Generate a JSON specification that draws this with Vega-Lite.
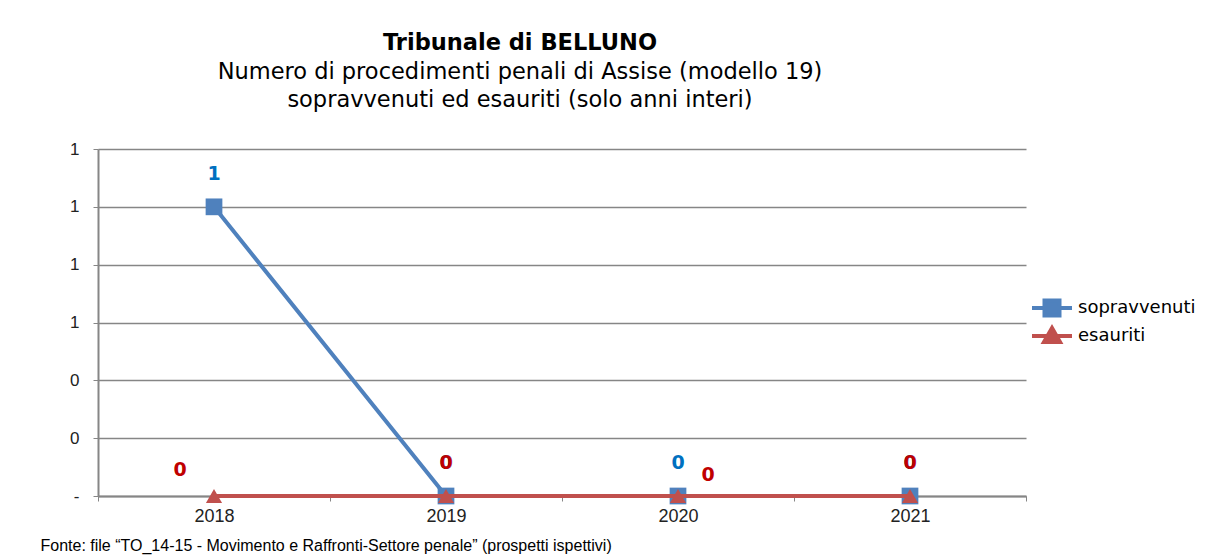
{
  "$schema": "https://vega.github.io/schema/vega-lite/v6.json",
  "autosize": {"type": "none"},
  "padding": {"left": 98, "top": 149, "right": 189, "bottom": 62},
  "width": 928,
  "height": 347,
  "background": "white",
  "title": {
    "text": "Tribunale di BELLUNO",
    "subtitle": ["Numero di procedimenti penali di Assise (modello 19)", "sopravvenuti ed esauriti (solo anni interi)"],
    "anchor": "middle",
    "dx": -42,
    "font": "DejaVu Sans",
    "fontSize": 22.5,
    "fontWeight": "bold",
    "color": "black",
    "subtitleFont": "DejaVu Sans",
    "subtitleFontSize": 22.5,
    "subtitleColor": "black",
    "subtitlePadding": 6,
    "subtitleLineHeight": 28,
    "offset": 29
  },
  "data": {
    "values": [
      {"anno": "2018", "serie": "sopravvenuti", "valore": 1},
      {"anno": "2019", "serie": "sopravvenuti", "valore": 0},
      {"anno": "2020", "serie": "sopravvenuti", "valore": 0},
      {"anno": "2021", "serie": "sopravvenuti", "valore": 0},
      {"anno": "2018", "serie": "esauriti", "valore": 0},
      {"anno": "2019", "serie": "esauriti", "valore": 0},
      {"anno": "2020", "serie": "esauriti", "valore": 0},
      {"anno": "2021", "serie": "esauriti", "valore": 0}
    ]
  },
  "encoding": {
    "x": {
      "field": "anno",
      "type": "ordinal",
      "scale": {"type": "band", "paddingInner": 0, "paddingOuter": 0},
      "axis": {
        "title": "Fonte: file “TO_14-15 - Movimento e Raffronti-Settore penale” (prospetti ispettivi)",
        "titleFont": "Liberation Sans",
        "titleFontSize": 16,
        "titleFontWeight": "normal",
        "titleColor": "black",
        "titleAnchor": "start",
        "titleAlign": "left",
        "titleX": -58,
        "titleY": 49,
        "titleBaseline": "middle",
        "labelAngle": 0,
        "labelFont": "Liberation Sans",
        "labelFontSize": 18,
        "labelColor": "#222",
        "labelPadding": 6,
        "tickBand": "extent",
        "tickSize": 5,
        "tickColor": "#868686",
        "domainColor": "#868686",
        "domainWidth": 2,
        "grid": false
      }
    },
    "y": {
      "field": "valore",
      "type": "quantitative",
      "scale": {"domain": [0, 1.2], "nice": false},
      "axis": {
        "title": null,
        "values": [0, 0.2, 0.4, 0.6, 0.8, 1.0, 1.2],
        "labelExpr": "datum.value == 0 ? '-' : format(datum.value, '.0f')",
        "labelFont": "Liberation Sans",
        "labelFontSize": 17,
        "labelColor": "#222",
        "labelPadding": 14,
        "tickSize": 5,
        "tickColor": "#868686",
        "domainColor": "#868686",
        "domainWidth": 2,
        "grid": true,
        "gridColor": "#868686",
        "gridWidth": 1.5
      }
    }
  },
  "layer": [
    {
      "transform": [{"filter": "datum.serie === 'sopravvenuti'"}],
      "mark": {"type": "line", "strokeWidth": 4},
      "encoding": {
        "color": {
          "field": "serie",
          "type": "nominal",
          "scale": {"domain": ["sopravvenuti", "esauriti"], "range": ["#4F81BD", "#C0504D"]},
          "legend": {
            "title": null,
            "orient": "none",
            "legendX": 942,
            "legendY": 147,
            "symbolSize": 400,
            "labelOffset": 14,
            "rowPadding": -4,
            "labelFont": "DejaVu Sans",
            "labelFontSize": 18,
            "labelColor": "black",
            "encode": {
              "symbols": {
                "update": {
                  "shape": {"signal": "datum.value === 'sopravvenuti' ? 'M-2,0H2M-0.75,-0.75H0.75V0.75H-0.75Z' : 'M-2,0H2M0,-0.8L0.8,0.6H-0.8Z'"},
                  "fill": {"signal": "datum.value === 'sopravvenuti' ? '#4F81BD' : '#C0504D'"},
                  "stroke": {"signal": "datum.value === 'sopravvenuti' ? '#4F81BD' : '#C0504D'"},
                  "strokeWidth": {"value": 4},
                  "opacity": {"value": 1}
                }
              }
            }
          }
        }
      }
    },
    {
      "transform": [{"filter": "datum.serie === 'sopravvenuti'"}],
      "mark": {"type": "point", "shape": "square", "filled": true, "size": 280, "opacity": 1, "color": "#4F81BD"}
    },
    {
      "transform": [{"filter": "datum.serie === 'esauriti'"}],
      "mark": {"type": "line", "strokeWidth": 4},
      "encoding": {"color": {"field": "serie", "type": "nominal"}}
    },
    {
      "transform": [{"filter": "datum.serie === 'esauriti'"}],
      "mark": {"type": "point", "shape": "triangle-up", "filled": true, "size": 260, "opacity": 1, "color": "#C0504D"}
    },
    {
      "transform": [{"filter": "datum.serie === 'sopravvenuti'"}],
      "mark": {"type": "text", "font": "DejaVu Sans", "fontSize": 19, "fontWeight": "bold", "color": "#0070C0", "dy": -33},
      "encoding": {"text": {"field": "valore", "type": "quantitative", "format": ".0f"}}
    },
    {
      "transform": [{"filter": "datum.serie === 'esauriti' && (datum.anno === '2019' || datum.anno === '2021')"}],
      "mark": {"type": "text", "font": "DejaVu Sans", "fontSize": 19, "fontWeight": "bold", "color": "#C00000", "dy": -33},
      "encoding": {"text": {"field": "valore", "type": "quantitative", "format": ".0f"}}
    },
    {
      "transform": [{"filter": "datum.serie === 'esauriti' && datum.anno === '2018'"}],
      "mark": {"type": "text", "font": "DejaVu Sans", "fontSize": 19, "fontWeight": "bold", "color": "#C00000", "dx": -34, "dy": -26},
      "encoding": {"text": {"field": "valore", "type": "quantitative", "format": ".0f"}}
    },
    {
      "transform": [{"filter": "datum.serie === 'esauriti' && datum.anno === '2020'"}],
      "mark": {"type": "text", "font": "DejaVu Sans", "fontSize": 19, "fontWeight": "bold", "color": "#C00000", "dx": 30, "dy": -21},
      "encoding": {"text": {"field": "valore", "type": "quantitative", "format": ".0f"}}
    }
  ],
  "config": {
    "view": {"stroke": null}
  }
}
